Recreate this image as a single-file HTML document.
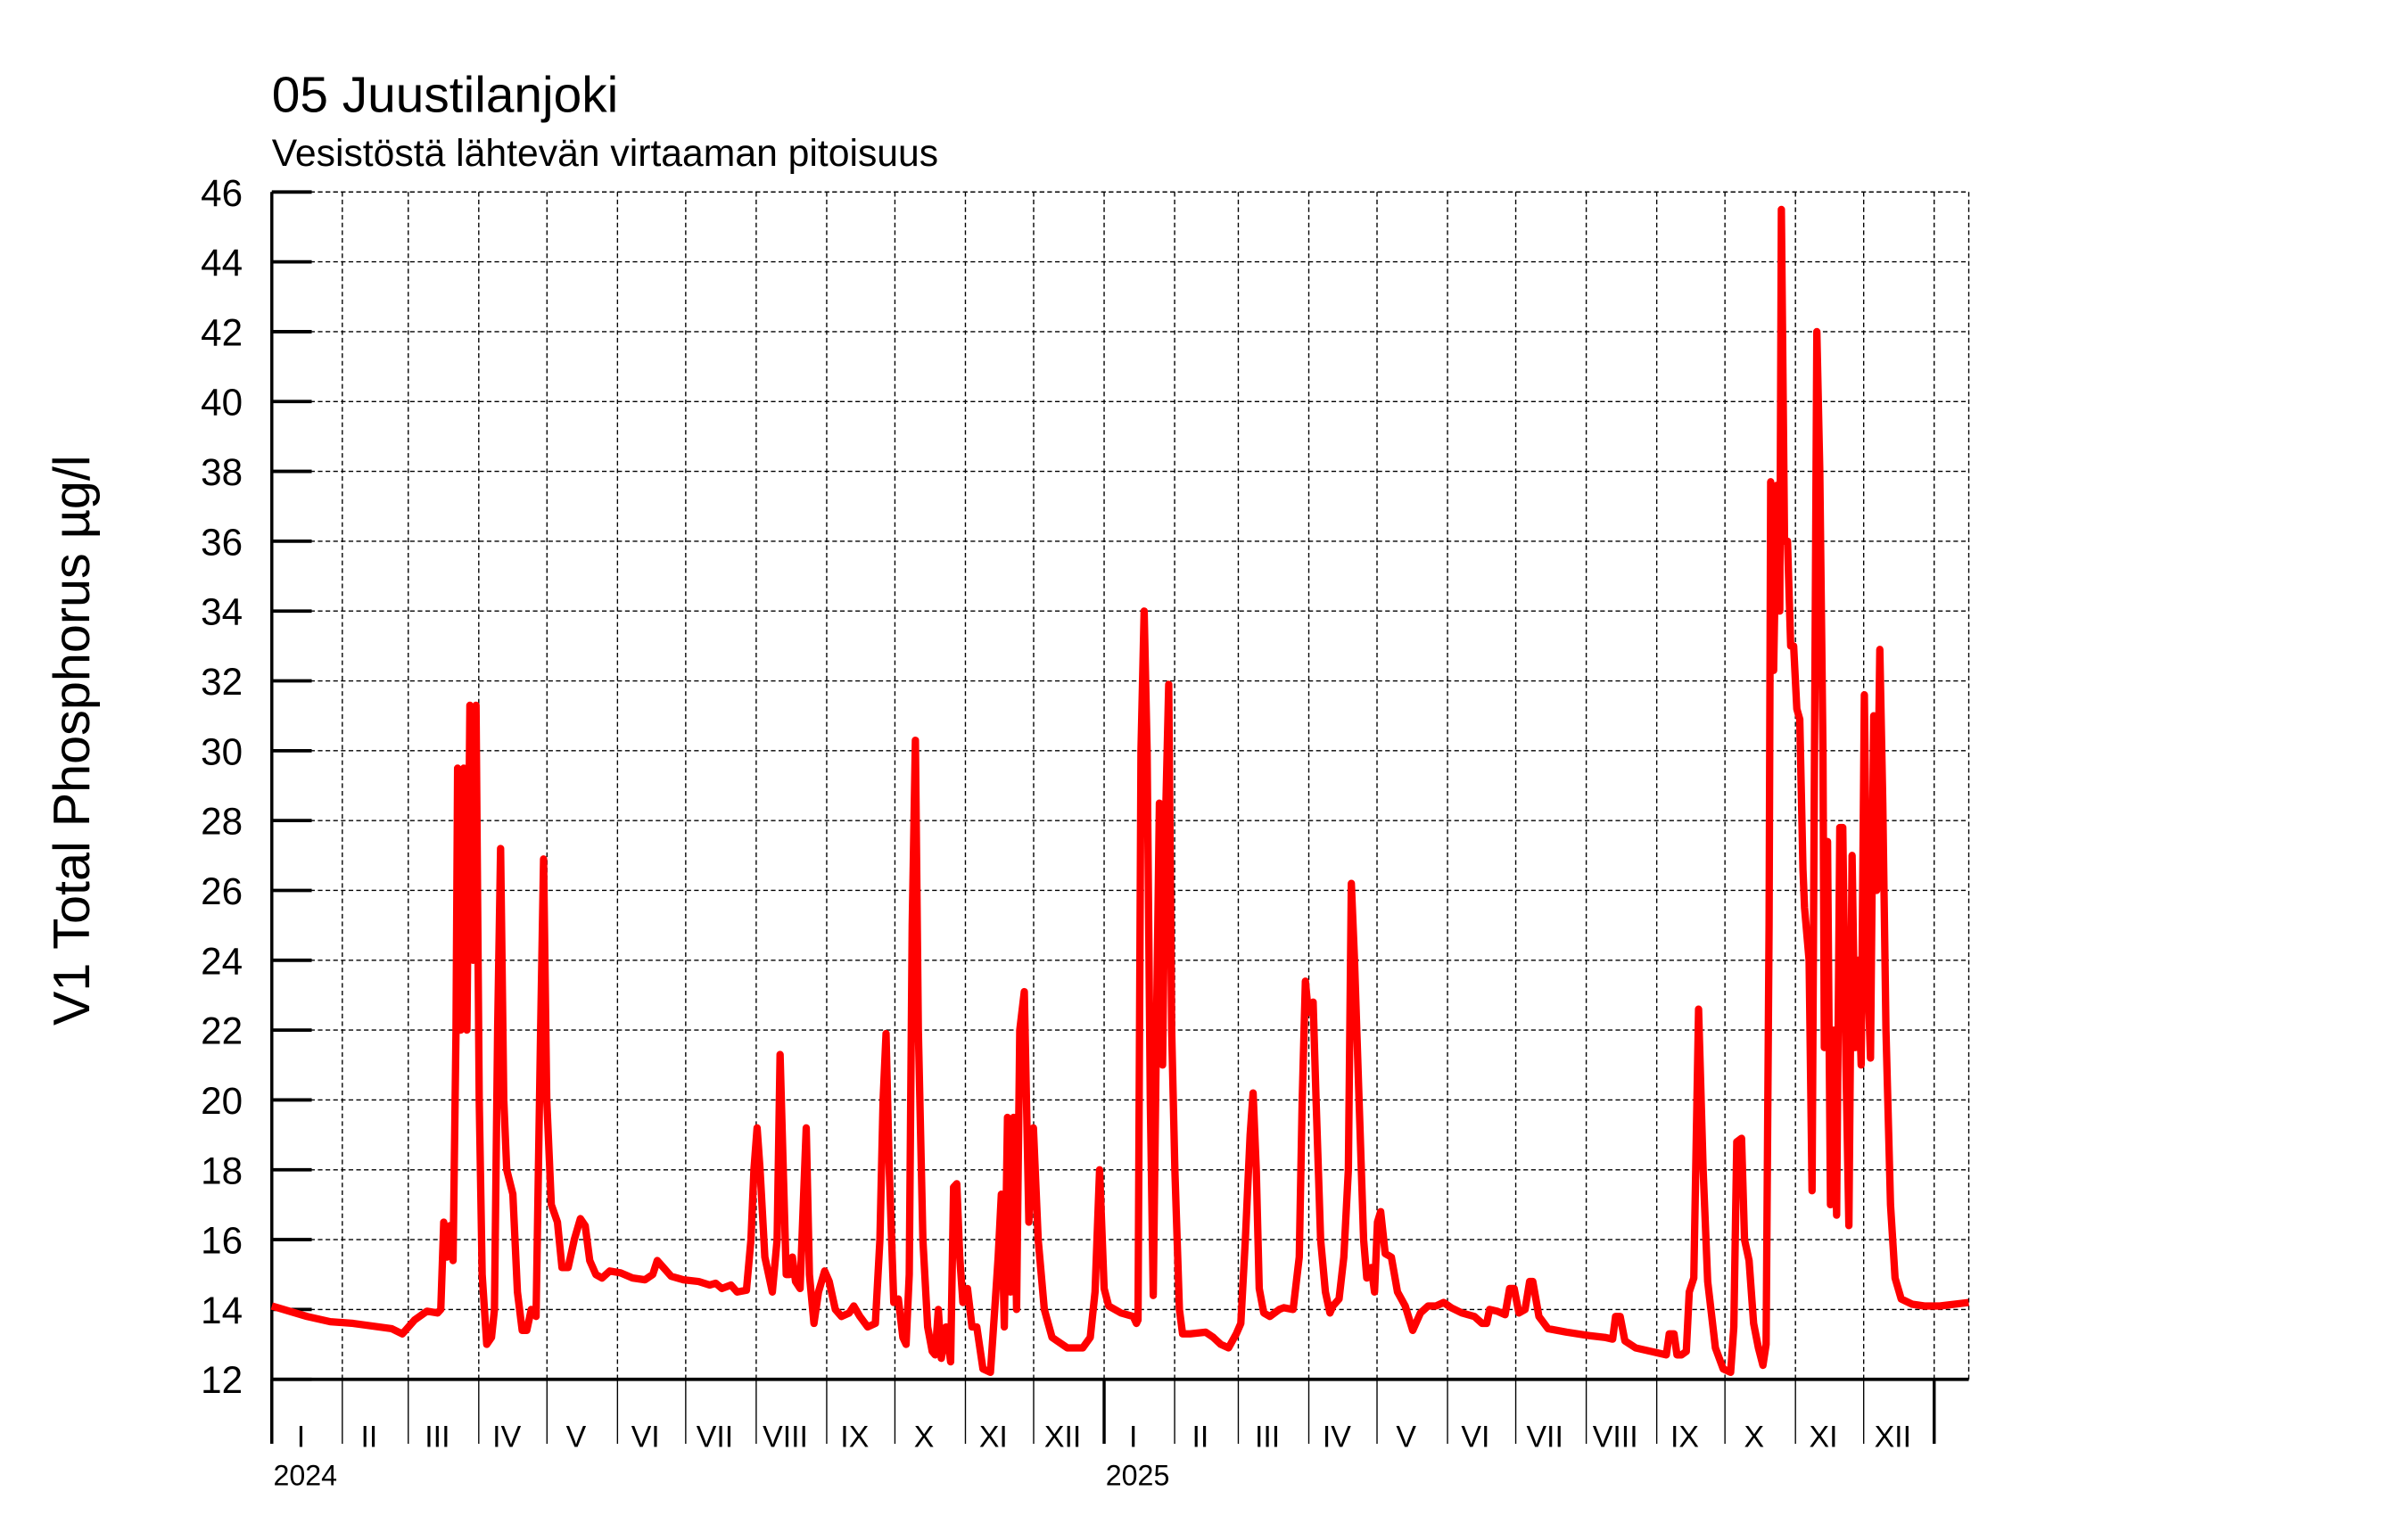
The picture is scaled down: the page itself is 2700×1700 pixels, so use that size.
<!DOCTYPE html>
<html><head><meta charset="utf-8"><style>
html,body{margin:0;padding:0;background:#fff}
svg{display:block}
text{font-family:"Liberation Sans",sans-serif;fill:#000}
</style></head><body>
<svg id="chart" width="2700" height="1700" viewBox="0 0 1568 987" preserveAspectRatio="none" xmlns="http://www.w3.org/2000/svg">
<text x="177" y="73" font-size="33">05 Juustilanjoki</text>
<text x="177" y="108" font-size="24.8">Vesistöstä lähtevän virtaaman pitoisuus</text>
<text transform="translate(58,482) rotate(-90)" text-anchor="middle" font-size="33.4">V1 Total Phosphorus µg/l</text>
<g id="grid"></g>
<g id="axes"></g>
<g id="series"></g>
</svg>
<script>
const yTicks=[12,14,16,18,20,22,24,26,28,30,32,34,36,38,40,42,44,46];
const monthLabels=["I","II","III","IV","V","VI","VII","VIII","IX","X","XI","XII"];
const years=[2024,2025];
const days=[0,15.5,25.7,35.8,52.7,57.4,62.8,68.2,72.9,74.3,75.6,77.0,78.3,79.7,81.0,81.7,83.1,84.4,85.8,87.1,88.5,89.8,91.2,92.5,94.5,96.6,97.9,99.3,100.6,102.0,103.3,106.0,108.0,110.1,112.1,114.1,116.2,118.2,119.5,120.9,122.9,125.6,127.6,130.3,133.0,135.7,137.8,139.8,142.5,145.2,148.6,153.3,158.7,164.1,167.5,169.5,172.2,175.6,181.0,187.7,192.5,195.2,197.9,201.9,204.6,208.7,210.7,212.0,213.4,214.7,216.8,220.1,222.2,223.5,224.9,226.2,227.6,228.9,230.3,232.3,233.7,235.0,236.4,238.4,240.4,243.1,245.1,247.8,250.5,253.9,255.9,258.6,262.0,265.4,267.4,268.8,270.1,271.5,273.5,275.5,277.5,278.9,280.3,281.6,283.0,284.3,286.3,288.4,290.4,291.7,293.1,294.4,296.5,298.5,299.8,301.2,302.5,303.9,305.9,307.9,310.0,312.7,316.0,318.1,319.4,320.8,322.1,323.5,324.8,326.2,327.5,328.9,330.9,332.9,334.9,337.0,339.7,343.1,349.8,356.6,359.9,362.0,364.0,366.0,368.0,373.4,378.8,380.2,380.9,382.2,383.6,384.9,386.3,387.6,389.0,390.3,391.7,393.0,394.4,395.7,397.1,399.1,400.5,403.8,410.6,414.0,417.3,420.7,424.1,426.1,428.1,430.2,431.5,432.9,434.2,436.2,438.9,443.0,445.0,449.1,451.8,453.1,454.5,455.8,457.9,459.2,461.2,463.3,465.3,466.6,469.3,471.4,473.4,474.7,476.1,478.1,480.1,481.5,483.5,484.9,486.2,487.6,489.6,492.3,495.0,498.4,501.7,505.1,508.5,511.9,515.3,518.6,523.3,528.8,532.2,534.2,535.5,538.9,542.3,544.3,546.3,548.4,551.1,553.1,554.5,557.2,561.2,569.3,579.4,586.2,589.6,590.9,592.9,595.0,599.7,606.4,613.2,614.5,616.6,617.9,619.9,622.0,623.3,625.3,627.4,629.4,631.4,634.8,638.2,641.5,642.9,644.2,646.3,647.6,649.6,651.6,653.7,655.7,657.1,658.4,659.1,660.4,661.8,663.1,663.8,665.2,666.5,667.9,669.2,670.6,671.9,673.3,674.0,676.0,677.3,679.4,680.7,682.1,682.7,684.1,685.4,686.8,688.1,689.5,690.8,692.2,693.5,694.9,696.2,697.6,698.9,700.3,701.6,703.0,704.4,705.7,707.1,708.4,709.8,711.8,713.8,716.5,721.3,726.7,733.5,746.2];
const values=[14.1,13.8,13.65,13.6,13.45,13.3,13.7,13.95,13.9,14.0,16.5,15.5,16.4,15.4,22,29.5,22,29.5,22,31.3,24,31.3,20,15,13,13.2,14,22,27.2,20,18,17.3,14.5,13.4,13.4,14,13.8,22,26.9,20,17,16.5,15.2,15.2,16,16.6,16.4,15.4,15,14.9,15.1,15.05,14.9,14.85,15.0,15.4,15.2,14.95,14.85,14.8,14.7,14.75,14.6,14.7,14.5,14.55,16,18,19.2,18,15.5,14.5,16,21.3,18,15,15,15.5,14.8,14.6,17,19.2,15,13.6,14.5,15.1,14.8,14,13.8,13.9,14.1,13.8,13.5,13.6,16,20,21.9,18,14.2,14.3,13.2,13,15,25,30.3,22,16,13.5,12.8,12.7,14,12.6,13.5,12.5,17.5,17.6,15.5,14.2,14.6,13.5,13.5,12.3,12.2,14.2,15.5,17.3,13.5,19.5,14.5,19.5,14,22,23.1,16.5,19.2,16,14,13.2,12.9,12.9,13.2,14.5,18,14.6,14.1,13.9,13.8,13.6,13.7,30,34,30,20,14.4,22,28.5,21,28,31.9,22,18,14,13.3,13.3,13.35,13.2,13.0,12.9,13.3,13.6,16,19,20.2,18,14.6,13.9,13.8,14,14.05,14.0,15.5,20,23.4,22.5,22.8,20,16,14.5,13.9,14.1,14.3,15.5,18,26.2,24,20,16,14.9,15.2,14.5,16.5,16.8,15.6,15.5,14.5,14.1,13.4,13.9,14.1,14.1,14.2,14.05,13.9,13.8,13.6,13.6,14.0,13.95,13.85,14.6,14.6,13.9,14.0,14.8,14.8,13.8,13.45,13.35,13.25,13.2,13.15,13.8,13.8,13.1,12.9,12.8,12.7,13.3,13.3,12.7,12.7,12.8,14.5,14.9,22.6,18,14.8,12.9,12.3,12.2,13.5,18.8,18.9,16,15.4,13.6,12.9,12.4,13,25,37.7,32.3,37.6,34,45.5,36,36,33,33,31.2,30.9,26.6,25.5,24,17.4,42,38,30,21.5,27.4,17,22,16.7,27.8,27.8,21,16.4,27,21.5,24,21,31.6,24,21.2,31,26,32.9,28.5,22,17,14.9,14.3,14.15,14.1,14.1,14.2];

const NS="http://www.w3.org/2000/svg";
const X0=177,X1=1282,Y0=898,Y1=125,PXD=1.4808;
function xs(d){return X0+d*PXD;}
function ys(v){return Y0-(v-12)*(Y0-Y1)/34;}
function mk(tag,attrs,parent){const e=document.createElementNS(NS,tag);for(const k in attrs)e.setAttribute(k,attrs[k]);parent.appendChild(e);return e;}
const grid=document.getElementById('grid'),axes=document.getElementById('axes'),ser=document.getElementById('series');

const mlen=[[31,29,31,30,31,30,31,31,30,31,30,31],[31,28,31,30,31,30,31,31,30,31,30,31]];
let d=0;const bounds=[];
years.forEach((yr,yi)=>{mlen[yi].forEach((L,mi)=>{bounds.push({d:d,L:L,mi:mi,yr:yr,first:mi===0});d+=L;});});
bounds.push({d:d,L:0,mi:-1,yr:2026,first:true});

yTicks.forEach(v=>{
  const y=ys(v);
  if(v>12){const g=mk('line',{x1:X0,x2:X1,y1:y,y2:y,stroke:'#000','stroke-width':0.8,'stroke-dasharray':'3,2'},grid);
  
  }
  const t=mk('line',{x1:X0,x2:X0+26,y1:y,y2:y,stroke:'#000','stroke-width':2.2},axes);
  
  
  const tx=mk('text',{x:158,y:y+9,'text-anchor':'end','font-size':24.5},axes);
  tx.textContent=v;
  
  
});
bounds.forEach(b=>{
  const x=xs(b.d);
  if(b.d>0){const g=mk('line',{x1:x,x2:x,y1:Y1,y2:Y0,stroke:'#000','stroke-width':0.8,'stroke-dasharray':'3,2'},grid);
  
  }
  const t=mk('line',{x1:x,x2:x,y1:Y0,y2:940,stroke:'#000','stroke-width':b.first?2:0.8},axes);
  
  
  if(b.mi>=0){
    const tx=mk('text',{x:xs(b.d+b.L/2)-4,y:942,'text-anchor':'middle','font-size':19.7},axes);
    tx.textContent=monthLabels[b.mi];
    
    
    if(b.mi===0){const yt=mk('text',{x:x+1,y:967,'font-size':18.7},axes);
      yt.textContent=b.yr;
      
      }
  }
});
const rg=mk('line',{x1:X1,x2:X1,y1:Y1,y2:Y0,stroke:'#000','stroke-width':0.8,'stroke-dasharray':'3,2'},grid);


const tg=mk('line',{x1:X0,x2:X1,y1:Y1,y2:Y1,stroke:'#000','stroke-width':0.8,'stroke-dasharray':'3,2'},grid);


const ya=mk('line',{x1:X0,x2:X0,y1:Y1,y2:940,stroke:'#000','stroke-width':2},axes);


const xa=mk('line',{x1:X0,x2:X1,y1:Y0,y2:Y0,stroke:'#000','stroke-width':2.2},axes);



const pts=days.map((dd,i)=>xs(dd).toFixed(2)+','+ys(values[i]).toFixed(2)).join(' ');
const pl=mk('polyline',{points:pts,fill:'none',stroke:'#ff0000','stroke-width':4.8,'stroke-linejoin':'round'},ser);


</script>
</body></html>
